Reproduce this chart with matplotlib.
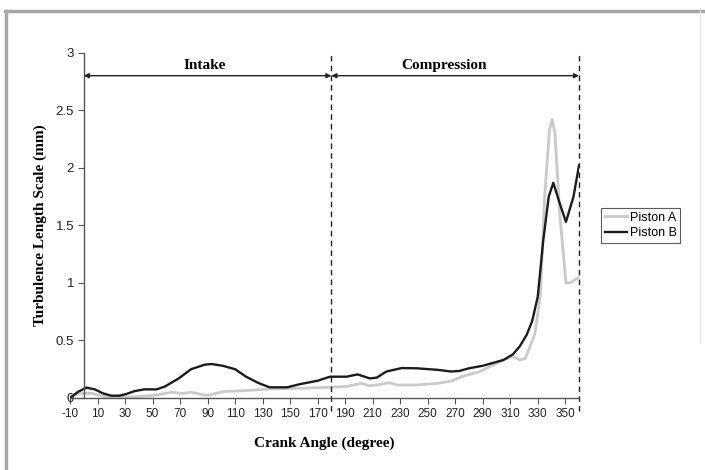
import matplotlib.pyplot as plt
from matplotlib.lines import Line2D

# crank angle (deg) and length scale (mm)
angle_a = [-10, -2, 6, 13, 20, 35, 49, 57, 64, 71, 78, 88, 91, 101, 118, 135, 157, 179,
           191, 202, 207, 213, 222, 228, 242, 257, 267, 276, 288, 305, 312, 317, 321,
           328, 332, 335, 338.5, 340.5, 342.5, 346, 350.5, 353.5, 360]
piston_a = [0.02, 0.04, 0.04, 0.017, 0.005, 0.01, 0.02, 0.035, 0.05, 0.04, 0.05, 0.025,
            0.025, 0.055, 0.065, 0.078, 0.084, 0.093, 0.1, 0.127, 0.107, 0.113, 0.133,
            0.113, 0.113, 0.127, 0.147, 0.19, 0.23, 0.33, 0.36, 0.33, 0.345, 0.56, 0.91,
            1.75, 2.33, 2.42, 2.30, 1.6, 1.0, 1.0, 1.05]

angle_b = [-10, -4, 2, 8, 14, 20, 26, 31, 37, 44, 53, 59, 69, 78, 88, 93, 101, 110, 118,
           127, 135, 148, 157, 170, 179, 191, 199, 208, 213, 220, 231, 242, 257, 267, 273,
           280, 290, 305, 312, 317, 322, 326, 330, 334, 338, 341.3, 346, 350.5, 356, 360]
piston_b = [0.0, 0.055, 0.09, 0.075, 0.04, 0.02, 0.02, 0.035, 0.06, 0.075, 0.075, 0.10,
            0.17, 0.25, 0.29, 0.295, 0.28, 0.25, 0.185, 0.13, 0.093, 0.093, 0.12, 0.15,
            0.185, 0.185, 0.205, 0.17, 0.177, 0.23, 0.26, 0.258, 0.245, 0.23, 0.235, 0.258,
            0.28, 0.33, 0.38, 0.45, 0.55, 0.67, 0.88, 1.37, 1.75, 1.87, 1.69, 1.53, 1.75, 2.02]

x_ticks = list(range(-10, 351, 20))
y_ticks = [0, 0.5, 1, 1.5, 2, 2.5, 3]
y_labels = ['0', '0.5', '1', '1.5', '2', '2.5', '3']
phase_bounds = [0, 180, 360]
phase_names = ['Intake', 'Compression']

serif = ['Liberation Serif', 'DejaVu Serif']
sans = ['Liberation Sans', 'DejaVu Sans']

fig = plt.figure(figsize=(7.05, 4.7), dpi=100)
ax = fig.add_axes([0.0993, 0.1532, 0.722, 0.7347])

ax.plot(angle_a, piston_a, color='#cacaca', lw=2, label='Piston A')
ax.plot(angle_b, piston_b, color='#1c1c1c', lw=1.7, label='Piston B')

ax.set_xlim(-10, 360)
ax.set_ylim(0, 3)

# phase markers
for xb in phase_bounds[1:]:
    ax.plot([xb, xb], [-0.11, 3], color='#222222', lw=1, ls=(0, (4, 3)), clip_on=False)
for i, name in enumerate(phase_names):
    x0, x1 = phase_bounds[i], phase_bounds[i + 1]
    ax.annotate('', xy=(x1, 2.8), xytext=(x0, 2.8),
                arrowprops=dict(arrowstyle='<|-|>', color='#222222', lw=1,
                                mutation_scale=7, shrinkA=0, shrinkB=0))
ax.text(88, 2.89, phase_names[0], family=serif, fontweight='bold', fontsize=11,
        ha='center', va='center')
ax.text(262, 2.89, phase_names[1], family=serif, fontweight='bold', fontsize=11,
        ha='center', va='center')

ax.spines['top'].set_visible(False)
ax.spines['right'].set_visible(False)
ax.spines['left'].set_position(('data', 0))
for s in ('left', 'bottom'):
    ax.spines[s].set_color('#555555')
    ax.spines[s].set_linewidth(1)

ax.set_xticks(x_ticks)
ax.set_xticklabels([str(t) for t in x_ticks], family=sans, fontsize=8.5)
ax.set_yticks(y_ticks)
ax.set_yticklabels(y_labels, family=sans, fontsize=9.5)
ax.tick_params(axis='both', direction='out', length=4, width=0.8, color='#555555',
               labelcolor='#222222', pad=3)

ax.set_xlabel('Crank Angle (degree)', family=serif, fontweight='bold', fontsize=11,
              labelpad=12)
ax.yaxis.set_label_coords(-0.045, 0.5)
ax.set_ylabel('Turbulence Length Scale (mm)', family=serif, fontweight='bold', fontsize=11)

leg = ax.legend(loc='center left', bbox_to_anchor=(1.043, 0.5), frameon=True,
                fancybox=False, edgecolor='#333333', prop={'family': sans, 'size': 9},
                handlelength=1.8, handletextpad=0.2, borderpad=0.3, labelspacing=0.25,
                borderaxespad=0)
leg.get_frame().set_linewidth(0.8)

# grey frame around the picture
fig.add_artist(Line2D([0.007, 1.0], [0.976, 0.976], color='#a8a8a8', lw=2.5))
fig.add_artist(Line2D([0.009, 0.009], [0.0, 0.976], color='#a8a8a8', lw=2.5))
fig.add_artist(Line2D([0.993, 0.993], [0.27, 0.976], color='#e6e6e6', lw=1))

fig.savefig('out.png', dpi=100)
